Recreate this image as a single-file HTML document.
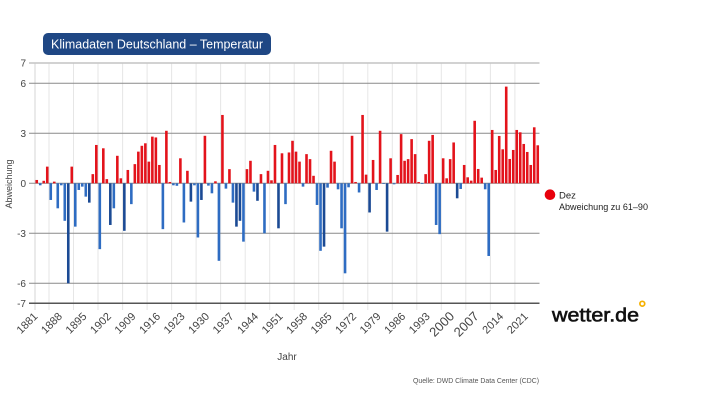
<!DOCTYPE html>
<html><head><meta charset="utf-8"><style>
html,body{margin:0;padding:0;background:#fff;}
svg{display:block;font-family:"Liberation Sans",sans-serif;}
.r{fill:#e3131b}.b{fill:#2e6cc2}.d{fill:#1b4a94}
</style></head><body>
<svg width="717" height="403" viewBox="0 0 717 403" xmlns="http://www.w3.org/2000/svg">
<rect width="717" height="403" fill="#fff"/>
<!-- title -->
<rect x="43" y="33" width="228" height="22" rx="5" fill="#1f4784"/>
<text x="157" y="48.5" fill="#fff" font-size="13" text-anchor="middle" textLength="212" lengthAdjust="spacingAndGlyphs">Klimadaten Deutschland – Temperatur</text>
<!-- vertical gridlines -->
<g stroke="#e6e6e6" stroke-width="1">
<line x1="35" y1="63" x2="35" y2="310" stroke="#d6d6d6"/>
<line x1="49.0" y1="63" x2="49.0" y2="310"/><line x1="73.5" y1="63" x2="73.5" y2="310"/><line x1="98.0" y1="63" x2="98.0" y2="310"/><line x1="122.6" y1="63" x2="122.6" y2="310"/><line x1="147.1" y1="63" x2="147.1" y2="310"/><line x1="171.6" y1="63" x2="171.6" y2="310"/><line x1="196.1" y1="63" x2="196.1" y2="310"/><line x1="220.6" y1="63" x2="220.6" y2="310"/><line x1="245.2" y1="63" x2="245.2" y2="310"/><line x1="269.7" y1="63" x2="269.7" y2="310"/><line x1="294.2" y1="63" x2="294.2" y2="310"/><line x1="318.7" y1="63" x2="318.7" y2="310"/><line x1="343.2" y1="63" x2="343.2" y2="310"/><line x1="367.8" y1="63" x2="367.8" y2="310"/><line x1="392.3" y1="63" x2="392.3" y2="310"/><line x1="416.8" y1="63" x2="416.8" y2="310"/><line x1="441.3" y1="63" x2="441.3" y2="310"/><line x1="465.8" y1="63" x2="465.8" y2="310"/><line x1="490.4" y1="63" x2="490.4" y2="310"/><line x1="514.9" y1="63" x2="514.9" y2="310"/>
</g>
<!-- horizontal lines -->
<line x1="29" y1="63" x2="539.5" y2="63" stroke="#c4c4c4" stroke-width="1.5"/>
<g stroke="#8a8a8a" stroke-width="1">
<line x1="29" y1="83.3" x2="539.5" y2="83.3"/>
<line x1="29" y1="133.3" x2="539.5" y2="133.3"/>
<line x1="29" y1="183.3" x2="539.5" y2="183.3"/>
<line x1="29" y1="233.3" x2="539.5" y2="233.3"/>
<line x1="29" y1="283.3" x2="539.5" y2="283.3"/>
</g>
<line x1="29" y1="303.3" x2="539.5" y2="303.3" stroke="#555" stroke-width="1.5"/>
<!-- y labels -->
<g font-size="10" fill="#444" text-anchor="end">
<text x="26" y="66.5">7</text><text x="26" y="86.8">6</text><text x="26" y="136.8">3</text><text x="26" y="186.8">0</text><text x="26" y="236.8">-3</text><text x="26" y="286.8">-6</text><text x="26" y="306.8">-7</text>
</g>
<text transform="translate(12,184) rotate(-90)" font-size="9" fill="#444" text-anchor="middle">Abweichung</text>
<!-- bars -->
<g transform="translate(35.45,183.3) scale(3.5035,16.67)">
<rect class="r" x="0" y="-0.2" width="0.74" height="0.2"/>
<rect class="b" x="1" y="0" width="0.74" height="0.12"/>
<rect class="r" x="2" y="-0.15" width="0.74" height="0.15"/>
<rect class="r" x="3" y="-1" width="0.74" height="1"/>
<rect class="b" x="4" y="0" width="0.74" height="1"/>
<rect class="r" x="5" y="-0.1" width="0.74" height="0.1"/>
<rect class="b" x="6" y="0" width="0.74" height="1.5"/>
<rect class="b" x="7" y="0" width="0.74" height="0.12"/>
<rect class="b" x="8" y="0" width="0.74" height="2.25"/>
<rect class="d" x="9" y="0" width="0.74" height="6"/>
<rect class="r" x="10" y="-1" width="0.74" height="1"/>
<rect class="b" x="11" y="0" width="0.74" height="2.6"/>
<rect class="b" x="12" y="0" width="0.74" height="0.4"/>
<rect class="b" x="13" y="0" width="0.74" height="0.2"/>
<rect class="b" x="14" y="0" width="0.74" height="0.8"/>
<rect class="d" x="15" y="0" width="0.74" height="1.16"/>
<rect class="r" x="16" y="-0.55" width="0.74" height="0.55"/>
<rect class="r" x="17" y="-2.3" width="0.74" height="2.3"/>
<rect class="b" x="18" y="0" width="0.74" height="3.95"/>
<rect class="r" x="19" y="-2.1" width="0.74" height="2.1"/>
<rect class="r" x="20" y="-0.25" width="0.74" height="0.25"/>
<rect class="d" x="21" y="0" width="0.74" height="2.5"/>
<rect class="b" x="22" y="0" width="0.74" height="1.5"/>
<rect class="r" x="23" y="-1.65" width="0.74" height="1.65"/>
<rect class="r" x="24" y="-0.3" width="0.74" height="0.3"/>
<rect class="d" x="25" y="0" width="0.74" height="2.85"/>
<rect class="r" x="26" y="-0.8" width="0.74" height="0.8"/>
<rect class="b" x="27" y="0" width="0.74" height="1.25"/>
<rect class="r" x="28" y="-1.15" width="0.74" height="1.15"/>
<rect class="r" x="29" y="-1.9" width="0.74" height="1.9"/>
<rect class="r" x="30" y="-2.25" width="0.74" height="2.25"/>
<rect class="r" x="31" y="-2.4" width="0.74" height="2.4"/>
<rect class="r" x="32" y="-1.3" width="0.74" height="1.3"/>
<rect class="r" x="33" y="-2.8" width="0.74" height="2.8"/>
<rect class="r" x="34" y="-2.75" width="0.74" height="2.75"/>
<rect class="r" x="35" y="-1.1" width="0.74" height="1.1"/>
<rect class="b" x="36" y="0" width="0.74" height="2.75"/>
<rect class="r" x="37" y="-3.15" width="0.74" height="3.15"/>
<rect class="r" x="38" y="-0.08" width="0.74" height="0.08"/>
<rect class="b" x="39" y="0" width="0.74" height="0.12"/>
<rect class="b" x="40" y="0" width="0.74" height="0.15"/>
<rect class="r" x="41" y="-1.5" width="0.74" height="1.5"/>
<rect class="b" x="42" y="0" width="0.74" height="2.35"/>
<rect class="r" x="43" y="-0.75" width="0.74" height="0.75"/>
<rect class="d" x="44" y="0" width="0.74" height="1.1"/>
<rect class="b" x="45" y="0" width="0.74" height="0.12"/>
<rect class="b" x="46" y="0" width="0.74" height="3.25"/>
<rect class="d" x="47" y="0" width="0.74" height="1"/>
<rect class="r" x="48" y="-2.85" width="0.74" height="2.85"/>
<rect class="b" x="49" y="0" width="0.74" height="0.14"/>
<rect class="b" x="50" y="0" width="0.74" height="0.6"/>
<rect class="r" x="51" y="-0.12" width="0.74" height="0.12"/>
<rect class="b" x="52" y="0" width="0.74" height="4.65"/>
<rect class="r" x="53" y="-4.1" width="0.74" height="4.1"/>
<rect class="b" x="54" y="0" width="0.74" height="0.32"/>
<rect class="r" x="55" y="-0.85" width="0.74" height="0.85"/>
<rect class="b" x="56" y="0" width="0.74" height="1.16"/>
<rect class="d" x="57" y="0" width="0.74" height="2.6"/>
<rect class="d" x="58" y="0" width="0.74" height="2.25"/>
<rect class="b" x="59" y="0" width="0.74" height="3.5"/>
<rect class="r" x="60" y="-0.85" width="0.74" height="0.85"/>
<rect class="r" x="61" y="-1.35" width="0.74" height="1.35"/>
<rect class="b" x="62" y="0" width="0.74" height="0.5"/>
<rect class="d" x="63" y="0" width="0.74" height="1.05"/>
<rect class="r" x="64" y="-0.55" width="0.74" height="0.55"/>
<rect class="b" x="65" y="0" width="0.74" height="3"/>
<rect class="r" x="66" y="-0.75" width="0.74" height="0.75"/>
<rect class="r" x="67" y="-0.18" width="0.74" height="0.18"/>
<rect class="r" x="68" y="-2.3" width="0.74" height="2.3"/>
<rect class="d" x="69" y="0" width="0.74" height="2.7"/>
<rect class="r" x="70" y="-1.8" width="0.74" height="1.8"/>
<rect class="b" x="71" y="0" width="0.74" height="1.25"/>
<rect class="r" x="72" y="-1.85" width="0.74" height="1.85"/>
<rect class="r" x="73" y="-2.55" width="0.74" height="2.55"/>
<rect class="r" x="74" y="-1.9" width="0.74" height="1.9"/>
<rect class="r" x="75" y="-1.3" width="0.74" height="1.3"/>
<rect class="b" x="76" y="0" width="0.74" height="0.2"/>
<rect class="r" x="77" y="-1.75" width="0.74" height="1.75"/>
<rect class="r" x="78" y="-1.45" width="0.74" height="1.45"/>
<rect class="r" x="79" y="-0.45" width="0.74" height="0.45"/>
<rect class="b" x="80" y="0" width="0.74" height="1.3"/>
<rect class="b" x="81" y="0" width="0.74" height="4.05"/>
<rect class="d" x="82" y="0" width="0.74" height="3.8"/>
<rect class="b" x="83" y="0" width="0.74" height="0.26"/>
<rect class="r" x="84" y="-1.95" width="0.74" height="1.95"/>
<rect class="r" x="85" y="-1.3" width="0.74" height="1.3"/>
<rect class="b" x="86" y="0" width="0.74" height="0.36"/>
<rect class="b" x="87" y="0" width="0.74" height="2.7"/>
<rect class="b" x="88" y="0" width="0.74" height="5.4"/>
<rect class="b" x="89" y="0" width="0.74" height="0.24"/>
<rect class="r" x="90" y="-2.85" width="0.74" height="2.85"/>
<rect class="r" x="91" y="-0.08" width="0.74" height="0.08"/>
<rect class="b" x="92" y="0" width="0.74" height="0.55"/>
<rect class="r" x="93" y="-4.1" width="0.74" height="4.1"/>
<rect class="r" x="94" y="-0.52" width="0.74" height="0.52"/>
<rect class="d" x="95" y="0" width="0.74" height="1.75"/>
<rect class="r" x="96" y="-1.4" width="0.74" height="1.4"/>
<rect class="b" x="97" y="0" width="0.74" height="0.4"/>
<rect class="r" x="98" y="-3.15" width="0.74" height="3.15"/>
<rect class="b" x="99" y="0" width="0.74" height="0.04"/>
<rect class="d" x="100" y="0" width="0.74" height="2.9"/>
<rect class="r" x="101" y="-1.5" width="0.74" height="1.5"/>
<rect class="b" x="102" y="0" width="0.74" height="0.06"/>
<rect class="r" x="103" y="-0.5" width="0.74" height="0.5"/>
<rect class="r" x="104" y="-2.95" width="0.74" height="2.95"/>
<rect class="r" x="105" y="-1.35" width="0.74" height="1.35"/>
<rect class="r" x="106" y="-1.45" width="0.74" height="1.45"/>
<rect class="r" x="107" y="-2.65" width="0.74" height="2.65"/>
<rect class="r" x="108" y="-1.75" width="0.74" height="1.75"/>
<rect class="r" x="109" y="-0.08" width="0.74" height="0.08"/>
<rect class="b" x="110" y="0" width="0.74" height="0.04"/>
<rect class="r" x="111" y="-0.55" width="0.74" height="0.55"/>
<rect class="r" x="112" y="-2.55" width="0.74" height="2.55"/>
<rect class="r" x="113" y="-2.9" width="0.74" height="2.9"/>
<rect class="b" x="114" y="0" width="0.74" height="2.5"/>
<rect class="b" x="115" y="0" width="0.74" height="3.05"/>
<rect class="r" x="116" y="-1.5" width="0.74" height="1.5"/>
<rect class="r" x="117" y="-0.3" width="0.74" height="0.3"/>
<rect class="r" x="118" y="-1.45" width="0.74" height="1.45"/>
<rect class="r" x="119" y="-2.45" width="0.74" height="2.45"/>
<rect class="d" x="120" y="0" width="0.74" height="0.9"/>
<rect class="b" x="121" y="0" width="0.74" height="0.34"/>
<rect class="r" x="122" y="-1.1" width="0.74" height="1.1"/>
<rect class="r" x="123" y="-0.36" width="0.74" height="0.36"/>
<rect class="r" x="124" y="-0.16" width="0.74" height="0.16"/>
<rect class="r" x="125" y="-3.75" width="0.74" height="3.75"/>
<rect class="r" x="126" y="-0.86" width="0.74" height="0.86"/>
<rect class="r" x="127" y="-0.34" width="0.74" height="0.34"/>
<rect class="b" x="128" y="0" width="0.74" height="0.36"/>
<rect class="b" x="129" y="0" width="0.74" height="4.36"/>
<rect class="r" x="130" y="-3.2" width="0.74" height="3.2"/>
<rect class="r" x="131" y="-0.8" width="0.74" height="0.8"/>
<rect class="r" x="132" y="-2.84" width="0.74" height="2.84"/>
<rect class="r" x="133" y="-2.04" width="0.74" height="2.04"/>
<rect class="r" x="134" y="-5.8" width="0.74" height="5.8"/>
<rect class="r" x="135" y="-1.46" width="0.74" height="1.46"/>
<rect class="r" x="136" y="-2" width="0.74" height="2"/>
<rect class="r" x="137" y="-3.2" width="0.74" height="3.2"/>
<rect class="r" x="138" y="-3.06" width="0.74" height="3.06"/>
<rect class="r" x="139" y="-2.36" width="0.74" height="2.36"/>
<rect class="r" x="140" y="-1.88" width="0.74" height="1.88"/>
<rect class="r" x="141" y="-1.1" width="0.74" height="1.1"/>
<rect class="r" x="142" y="-3.36" width="0.74" height="3.36"/>
<rect class="r" x="143" y="-2.28" width="0.74" height="2.28"/>
</g>
<!-- x labels -->
<g font-size="11" fill="#444" text-anchor="end">
<text transform="translate(38.3,317) rotate(-45)">1881</text>
<text transform="translate(62.8,317) rotate(-45)">1888</text>
<text transform="translate(87.3,317) rotate(-45)">1895</text>
<text transform="translate(111.8,317) rotate(-45)">1902</text>
<text transform="translate(136.3,317) rotate(-45)">1909</text>
<text transform="translate(160.9,317) rotate(-45)">1916</text>
<text transform="translate(185.4,317) rotate(-45)">1923</text>
<text transform="translate(209.9,317) rotate(-45)">1930</text>
<text transform="translate(234.4,317) rotate(-45)">1937</text>
<text transform="translate(258.9,317) rotate(-45)">1944</text>
<text transform="translate(283.5,317) rotate(-45)">1951</text>
<text transform="translate(308.0,317) rotate(-45)">1958</text>
<text transform="translate(332.5,317) rotate(-45)">1965</text>
<text transform="translate(357.0,317) rotate(-45)">1972</text>
<text transform="translate(381.5,317) rotate(-45)">1979</text>
<text transform="translate(406.1,317) rotate(-45)">1986</text>
<text transform="translate(430.6,317) rotate(-45)">1993</text>
<text transform="translate(455.1,317) rotate(-45)" font-size="13">2000</text>
<text transform="translate(479.6,317) rotate(-45)" font-size="13">2007</text>
<text transform="translate(504.1,317) rotate(-45)">2014</text>
<text transform="translate(528.7,317) rotate(-45)">2021</text>
</g>
<text x="287" y="360" font-size="10" fill="#444" text-anchor="middle">Jahr</text>
<text x="539" y="383" font-size="7.5" fill="#555" text-anchor="end" textLength="126" lengthAdjust="spacingAndGlyphs">Quelle: DWD Climate Data Center (CDC)</text>
<!-- legend -->
<circle cx="550" cy="194.7" r="5.3" fill="#e8000b"/>
<text x="559" y="198.5" font-size="9.5" fill="#222">Dez</text>
<text x="559" y="210" font-size="9.5" fill="#222" textLength="89" lengthAdjust="spacingAndGlyphs">Abweichung zu 61–90</text>
<!-- logo -->
<text x="552" y="321.7" font-size="19" fill="#111" stroke="#111" stroke-width="0.6" textLength="87" lengthAdjust="spacingAndGlyphs">wetter.de</text>
<circle cx="642.3" cy="303.7" r="2.4" fill="#fff" stroke="#f5b000" stroke-width="1.7"/>
</svg>
</body></html>
